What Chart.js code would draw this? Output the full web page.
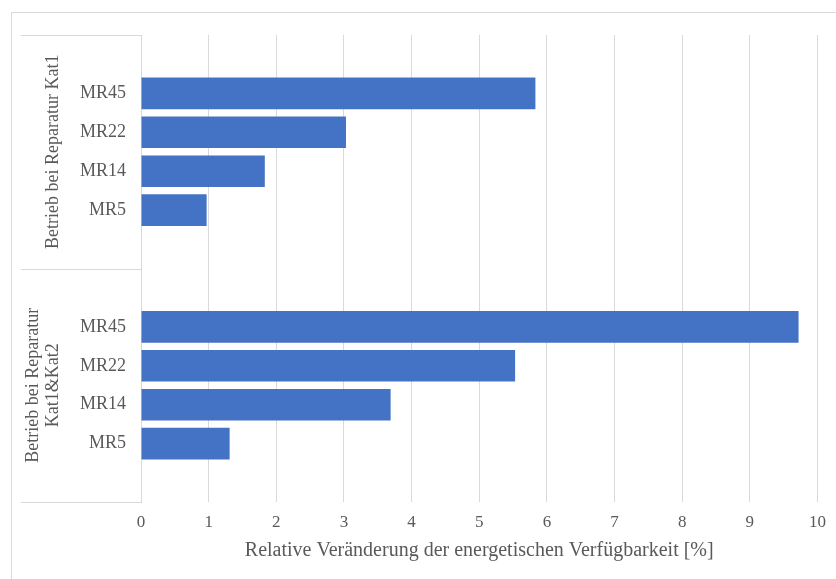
<!DOCTYPE html>
<html>
<head>
<meta charset="utf-8">
<script src="https://cdn.jsdelivr.net/npm/chart.js@4/dist/chart.umd.min.js"></script>
<style>
  html, body { margin: 0; padding: 0; background: #fff; }
  #wrap { width: 836px; height: 579px; position: relative; }
</style>
</head>
<body>
<div id="wrap"><canvas id="chart_verfuegbarkeit"></canvas></div>
<script>
// repair strategies, top row first
var rowLabels = ['MR45', 'MR22', 'MR14', 'MR5'];
// group captions (array entries = text lines)
var groupNames = [['Betrieb bei Reparatur Kat1'], ['Betrieb bei Reparatur', 'Kat1&Kat2']];
// relative change of energetic availability [%]
var kat1Values = [5.83, 3.03, 1.83, 0.97];
var kat12Values = [9.72, 5.53, 3.69, 1.31];
var xTicksMax = 10;

var textColor = '#595959';
var lineColor = '#d9d9d9';
var fontFamily = '"Liberation Serif", "Times New Roman", serif';

// each group gets an empty slot above and below its bars
function buildSlots(values) {
    return [null].concat(values, [null]);
}
function buildLabels() {
    return [''].concat(rowLabels, ['']);
}
var labels = buildLabels().concat(buildLabels());
var values = buildSlots(kat1Values).concat(buildSlots(kat12Values));
var slotsPerGroup = rowLabels.length + 2;

var chart_verfuegbarkeit = new Chart(document.getElementById('chart_verfuegbarkeit'), {
    type: 'bar',
    data: {
        labels: labels,
        datasets: [{
            data: values,
            backgroundColor: '#4472c4',
            borderWidth: 0,
            barPercentage: 0.81,
            categoryPercentage: 1.0
        }]
    },
    options: {
        indexAxis: 'y',
        animation: false,
        responsive: true,
        maintainAspectRatio: false,
        layout: {
            padding: { top: 35, right: 18, bottom: 0, left: 0 }
        },
        plugins: {
            legend: { display: false },
            tooltip: { enabled: false }
        },
        scales: {
            x: {
                type: 'linear',
                min: 0,
                max: xTicksMax,
                ticks: {
                    stepSize: 1,
                    padding: 10,
                    color: textColor,
                    font: { family: fontFamily, size: 17 }
                },
                grid: {
                    color: lineColor,
                    lineWidth: 1,
                    drawTicks: false
                },
                border: { display: false },
                title: {
                    display: true,
                    text: 'Relative Veränderung der energetischen Verfügbarkeit [%]',
                    color: textColor,
                    font: { family: fontFamily, size: 20 },
                    padding: { top: 0, bottom: 16 }
                },
                afterFit: function(scale) { scale.height = 77; }
            },
            y: {
                type: 'category',
                ticks: {
                    padding: 15,
                    autoSkip: false,
                    color: textColor,
                    font: { family: fontFamily, size: 18 }
                },
                grid: { display: false, drawTicks: false },
                border: { display: true, color: lineColor, width: 1 },
                afterFit: function(scale) { scale.width = 141; }
            }
        }
    },
    plugins: [{
        id: 'groupAxis',
        beforeDraw: function(chart) {
            var ctx = chart.ctx;
            ctx.save();
            ctx.fillStyle = 'white';
            ctx.fillRect(0, 0, chart.width, chart.height);
            ctx.restore();
        },
        afterDraw: function(chart) {
            var ctx = chart.ctx;
            var area = chart.chartArea;
            var yScale = chart.scales.y;
            var step = (area.bottom - area.top) / labels.length;
            ctx.save();
            // outer frame
            ctx.strokeStyle = lineColor;
            ctx.lineWidth = 1;
            ctx.strokeRect(11.5, 12.5, chart.width + 20, chart.height + 20);
            // group boundary lines on the left
            for (var g = 0; g <= groupNames.length; g++) {
                var y = Math.round(area.top + g * slotsPerGroup * step) + 0.5;
                ctx.beginPath();
                ctx.moveTo(21, y);
                ctx.lineTo(area.left, y);
                ctx.stroke();
            }
            // rotated group captions
            ctx.fillStyle = textColor;
            ctx.font = '18px ' + fontFamily;
            ctx.textAlign = 'center';
            ctx.textBaseline = 'middle';
            var captionRight = 53;
            var lineGap = 20;
            groupNames.forEach(function(lines, g) {
                var first = yScale.getPixelForValue(g * slotsPerGroup);
                var last = yScale.getPixelForValue((g + 1) * slotsPerGroup - 1);
                var cy = (first + last) / 2;
                lines.forEach(function(line, i) {
                    var cx = captionRight - (lines.length - 1 - i) * lineGap;
                    ctx.save();
                    ctx.translate(cx, cy);
                    ctx.rotate(-Math.PI / 2);
                    ctx.fillText(line, 0, 0);
                    ctx.restore();
                });
            });
            ctx.restore();
        }
    }]
});

window.addEventListener('beforeprint', () => {
  chart_verfuegbarkeit.resize(836, 579);
});
window.addEventListener('afterprint', () => {
  chart_verfuegbarkeit.resize();
});
</script>
</body>
</html>
